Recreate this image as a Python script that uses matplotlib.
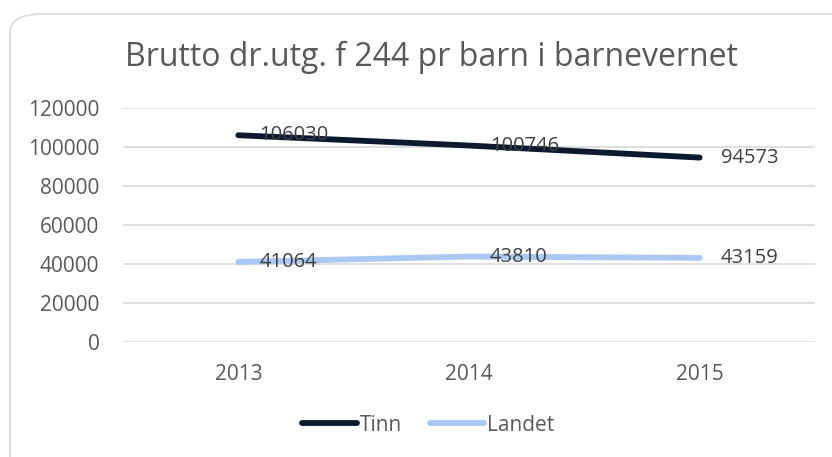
import matplotlib.pyplot as plt
from matplotlib.patches import FancyBboxPatch

# дані
years = ['2013', '2014', '2015']
tinn = [106030, 100746, 94573]
landet = [41064, 43810, 43159]
y_ticks = [0, 20000, 40000, 60000, 80000, 100000, 120000]

plt.rcParams['font.family'] = ['Open Sans', 'DejaVu Sans']

fig = plt.figure(figsize=(8.32, 4.57), dpi=100)
ax = fig.add_axes([123 / 832, 0.2516, 692 / 832, 0.5121])

# рамка навколо діаграми
frame = FancyBboxPatch((10 / 832, -0.05), 1.2, 1 - 14 / 457 + 0.05,
                       boxstyle='round,pad=0,rounding_size=0.04',
                       transform=fig.transFigure, facecolor='white',
                       edgecolor='#d9d9d9', linewidth=1.2, zorder=-10)
fig.patches.append(frame)

x = range(len(years))
ax.plot(x, tinn, color='#0b1a2e', linewidth=4.2, solid_capstyle='round', label='Tinn')
ax.plot(x, landet, color='#a9c8f3', linewidth=4.2, solid_capstyle='round', label='Landet')

for i, v in enumerate(tinn):
    ax.annotate(str(v), (i, v), xytext=(15, 0), textcoords='offset points',
                va='center', ha='left', fontsize=14.5, color='#404040')
for i, v in enumerate(landet):
    ax.annotate(str(v), (i, v), xytext=(15, 0), textcoords='offset points',
                va='center', ha='left', fontsize=14.5, color='#404040')

ax.set_xlim(-0.5, 2.5)
ax.set_ylim(0, 120000)
ax.set_yticks(y_ticks)
ax.set_yticklabels([str(t) for t in y_ticks])
ax.set_xticks(list(x))
ax.set_xticklabels(years)
ax.grid(axis='y', color='#d9d9d9', linewidth=1.2)
ax.set_axisbelow(True)
for s in ax.spines.values():
    s.set_visible(False)
ax.tick_params(length=0, labelsize=15, colors='#595959', pad=17)
ax.tick_params(axis='x', pad=16)
ax.set_facecolor('none')

fig.text(0.518, 0.875, 'Brutto dr.utg. f 244 pr barn i barnevernet',
         ha='center', va='center', fontsize=23, color='#595959')

fig.legend(loc='center', bbox_to_anchor=(0.515, 0.07), ncol=2, frameon=False,
           handlelength=2.6, handletextpad=0.15, columnspacing=1.35,
           fontsize=15, labelcolor='#595959')

fig.savefig('out.png', dpi=100)
